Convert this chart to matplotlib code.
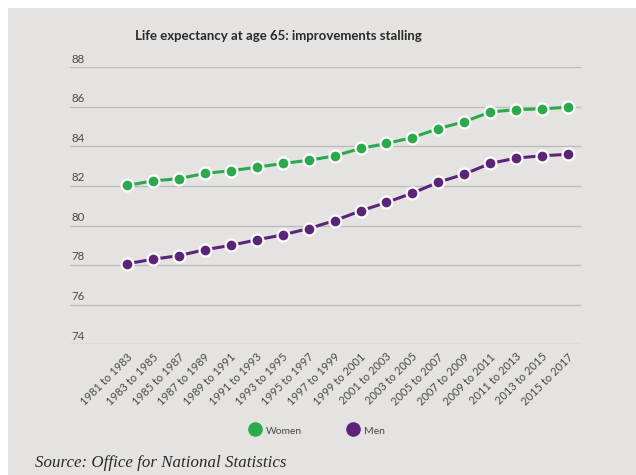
import matplotlib
matplotlib.use("Agg")
import matplotlib.pyplot as plt
from matplotlib.patches import Rectangle
from matplotlib.lines import Line2D
import matplotlib.transforms as mtransforms

periods = ["1981 to 1983", "1983 to 1985", "1985 to 1987", "1987 to 1989", "1989 to 1991",
           "1991 to 1993", "1993 to 1995", "1995 to 1997", "1997 to 1999", "1999 to 2001",
           "2001 to 2003", "2003 to 2005", "2005 to 2007", "2007 to 2009", "2009 to 2011",
           "2011 to 2013", "2013 to 2015", "2015 to 2017"]
women = [82.03, 82.26, 82.37, 82.64, 82.77, 82.95, 83.14, 83.3, 83.52, 83.9,
         84.15, 84.45, 84.9, 85.25, 85.74, 85.86, 85.9, 85.98]
men = [78.07, 78.3, 78.48, 78.78, 79.0, 79.28, 79.53, 79.85, 80.25, 80.74,
       81.17, 81.64, 82.19, 82.6, 83.14, 83.41, 83.53, 83.6]
yticks = [74, 76, 78, 80, 82, 84, 86, 88]

BG = "#e4e3e2"
GREEN = "#2aaa4a"
PURPLE = "#5b2479"
GRID = "#bdbcbb"
TXT = "#4a4a4a"

W, H = 636, 475
fig = plt.figure(figsize=(W / 100, H / 100), dpi=100, facecolor="white")
fig.patches.append(Rectangle((8 / W, 0), 1, (H - 8) / H, transform=fig.transFigure,
                             facecolor=BG, edgecolor="none", zorder=-10))

ax = fig.add_axes([70 / W, 1 - 344.3 / H, (581 - 70) / W, (344.3 - 67.3) / H])
ax.set_facecolor("none")
for s in ax.spines.values():
    s.set_visible(False)
ax.set_ylim(74, 88)
x = list(range(len(periods)))
ax.set_xlim(-2.2, 17.5)

for v in yticks:
    ax.axhline(v, color=GRID, lw=1.0, zorder=1)
    ax.annotate(str(v), xy=(0, v), xycoords=("axes fraction", "data"),
                xytext=(1, 2), textcoords="offset points", ha="left", va="bottom",
                fontsize=8.3, color=TXT, family="Lato")
ax.set_yticks([])
ax.set_xticks([])

mk = dict(marker="o", markersize=8.6, markeredgecolor="white", markeredgewidth=1.6, lw=2.2,
          solid_capstyle="round", zorder=3)
ax.plot(x, women, color=GREEN, markerfacecolor=GREEN, **mk)
ax.plot(x, men, color=PURPLE, markerfacecolor=PURPLE, **mk)

# rotated x labels
trans = mtransforms.blended_transform_factory(ax.transData, ax.transAxes)
for i, lab in enumerate(periods):
    ax.text(i - 0.02, -0.025, lab, transform=trans, rotation=45, rotation_mode="anchor",
            ha="right", va="top", fontsize=8.0, color=TXT, family="Lato")

fig.text(278 / W, 1 - 36 / H, "Life expectancy at age 65: improvements stalling",
         ha="center", va="center", fontsize=9.5, fontweight="bold", color="#2a2a2a", family="Lato")

# legend
for cx, col, lab in [(255, GREEN, "Women"), (353, PURPLE, "Men")]:
    fig.add_artist(Line2D([cx / W], [1 - 429 / H], marker="o", markersize=10.5,
                          color=col, markerfacecolor=col, markeredgewidth=0,
                          transform=fig.transFigure))
    fig.text((cx + 11) / W, 1 - 431 / H, lab, ha="left", va="center", fontsize=7.5,
             color=TXT, family="Lato")

fig.text(35 / W, 1 - 463 / H, "Source: Office for National Statistics", ha="left", va="center",
         fontsize=12.2, style="italic", color="#2a2a2a", family="Liberation Serif")

fig.savefig("out.png", dpi=100, facecolor="white")
